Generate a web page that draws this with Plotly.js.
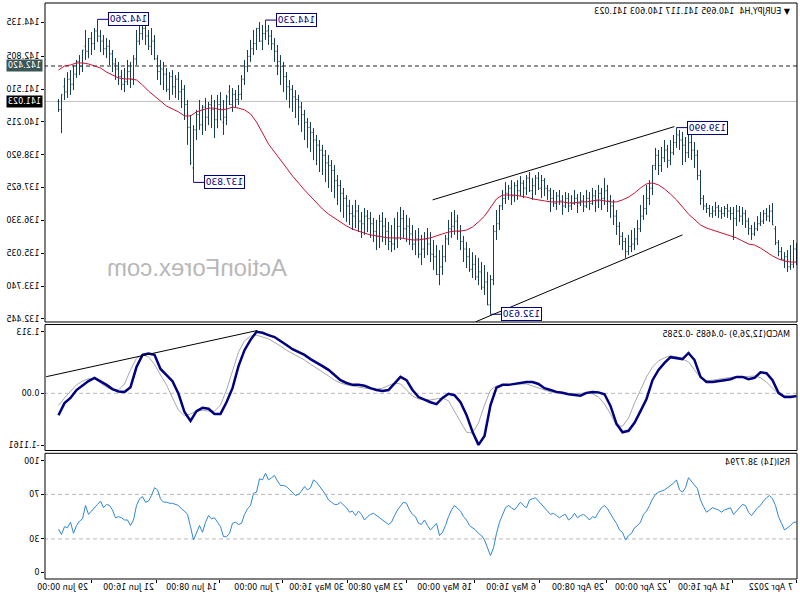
<!DOCTYPE html>
<html>
<head>
<meta charset="utf-8">
<script src="https://cdn.plot.ly/plotly-3.0.1.min.js"></script>
<style>
html,body{margin:0;padding:0;background:#fff;}
#chart{width:800px;height:600px;transform:scaleX(-1);}
</style>
</head>
<body>
<div id="chart"></div>
<script>
// EURJPY H4 bars, oldest first
const barOpen = [
134.70,135.20,134.60,134.50,134.90,134.80,135.10,135.45,136.15,136.70,
136.50,136.60,136.30,136.20,136.00,135.80,136.00,136.30,136.60,136.50,
136.70,136.40,136.60,136.70,136.80,136.60,136.70,136.85,136.70,136.60,
136.80,136.90,137.20,138.10,138.90,139.10,139.40,139.00,139.30,139.50,
139.70,139.40,139.00,138.70,139.10,138.80,138.50,138.90,138.50,137.60,
137.20,136.80,136.50,136.00,135.60,135.40,135.30,135.10,135.50,135.70,
136.10,136.50,136.90,137.10,137.50,137.20,137.40,137.10,137.30,137.00,
137.20,136.90,137.10,137.00,137.20,137.00,136.90,137.20,136.90,137.10,
137.30,137.00,137.20,137.50,137.60,137.90,137.60,138.00,137.70,137.50,
138.00,137.60,137.80,137.50,137.70,137.30,137.60,137.40,137.20,136.90,
136.20,135.90,134.00,133.00,133.90,133.70,134.30,134.10,134.60,134.40,
134.90,135.20,135.50,135.90,136.30,136.10,136.00,135.60,134.90,134.50,
134.20,134.90,135.00,135.40,135.60,135.20,135.00,135.60,135.40,135.80,
136.10,136.00,136.40,136.10,135.60,135.40,135.50,135.90,136.10,136.30,
135.70,135.90,136.20,136.40,136.50,136.20,136.30,136.70,136.50,136.60,
136.90,137.20,137.40,137.70,137.90,138.30,138.50,138.60,138.90,139.10,
139.30,139.50,139.80,140.00,140.20,140.50,140.80,141.10,141.20,141.50,
141.60,142.00,142.40,142.60,143.00,143.30,143.60,143.80,143.70,143.40,
143.90,143.30,143.10,142.80,142.40,141.90,141.30,141.10,141.30,140.90,
141.20,140.40,140.29,140.90,140.30,140.70,140.90,140.40,140.80,140.10,
140.50,139.90,138.60,140.00,140.90,141.50,141.40,141.90,141.60,142.00,
141.50,142.10,142.30,142.20,142.70,143.40,143.20,143.60,143.90,143.70,
143.40,142.70,141.90,142.20,141.80,141.70,142.00,142.30,142.50,142.90,
143.20,143.10,143.40,143.60,143.80,143.30,143.50,143.00,143.05,142.40,
142.60,142.10,141.70,141.90,141.40,141.30,140.695];
const barHigh = [
135.44,135.56,135.36,135.16,135.08,135.28,135.56,136.11,137.02,136.94,
136.82,136.74,136.66,136.50,136.27,136.15,136.43,136.74,136.86,136.90,
136.94,136.86,136.86,136.98,136.90,136.86,136.94,137.06,136.90,136.94,
137.02,137.33,138.32,139.11,139.42,139.70,139.82,139.62,139.82,139.90,
139.99,139.70,139.50,139.31,139.50,139.23,139.11,139.19,138.51,137.92,
137.73,137.33,136.94,136.35,136.03,135.95,135.76,135.64,135.87,136.27,
136.74,137.14,137.33,137.73,138.00,137.61,137.73,137.53,137.61,137.45,
137.53,137.33,137.45,137.37,137.53,137.33,137.41,137.45,137.33,137.53,
137.45,137.53,137.61,137.73,138.00,138.12,138.24,138.12,138.00,138.24,
138.12,137.92,138.08,137.92,137.84,137.92,137.73,137.84,137.53,136.94,
136.74,136.15,134.18,134.30,134.57,134.69,134.85,134.96,135.08,135.24,
135.48,135.72,136.15,136.55,136.74,136.66,136.35,135.76,135.36,135.16,
135.36,135.56,135.87,136.03,135.87,135.76,136.03,135.95,136.15,136.43,
136.55,136.74,136.86,136.66,136.43,136.15,136.27,136.43,136.66,136.55,
136.35,136.43,136.66,136.74,136.82,136.66,136.94,137.14,136.94,137.14,
137.33,137.61,137.92,138.12,138.51,138.71,138.91,139.11,139.31,139.50,
139.70,139.97,140.21,140.37,140.69,141.00,141.28,141.47,141.67,141.87,
142.18,142.58,142.85,143.25,143.52,143.84,144.04,144.23,144.04,144.15,
143.92,143.84,143.45,143.05,142.66,142.06,141.67,141.47,141.55,141.67,
141.28,141.08,141.39,141.28,141.08,141.28,141.00,141.16,140.88,141.08,
140.69,140.09,140.49,141.08,141.67,141.87,142.18,142.06,142.26,142.18,
142.34,142.58,142.66,142.85,143.64,143.92,143.84,144.04,144.23,144.15,
143.84,142.85,142.58,142.66,142.34,142.26,142.58,142.73,143.05,143.45,
143.52,143.64,143.84,144.26,143.92,143.76,143.52,143.84,143.05,142.85,
142.66,142.46,142.26,142.18,141.95,141.30,141.117];
const barLow = [
134.57,134.45,134.38,134.30,134.45,134.77,134.92,135.36,136.15,136.27,
136.31,136.19,136.11,135.91,135.72,135.56,135.76,136.03,136.15,136.27,
136.11,135.56,136.35,136.43,136.47,136.39,136.43,136.50,136.43,136.47,
136.62,136.74,136.94,137.92,138.40,138.71,138.79,138.63,138.51,139.11,
139.19,138.91,138.51,138.40,138.63,138.24,138.12,138.32,137.33,136.94,
136.55,136.35,135.87,135.36,135.16,135.08,134.96,134.85,135.16,135.36,
135.76,136.15,136.43,136.66,136.94,136.74,136.82,136.66,136.94,136.74,
136.82,136.66,136.90,136.62,136.94,136.74,136.66,136.82,136.55,136.94,
136.74,136.86,136.66,137.14,137.29,137.21,137.53,137.33,137.14,137.45,
137.33,137.21,137.29,137.14,137.06,136.94,137.14,136.98,136.74,135.95,
135.56,133.78,132.63,132.99,133.39,133.59,133.78,133.98,134.06,134.30,
134.45,134.69,135.16,135.56,135.76,135.64,135.36,134.69,134.18,133.78,
134.18,134.38,134.69,134.96,134.85,134.57,134.85,134.96,135.16,135.36,
135.48,135.64,135.56,135.24,135.16,135.08,135.16,135.36,135.48,135.24,
135.16,135.48,135.64,135.87,135.76,135.64,135.87,136.03,135.95,136.15,
136.27,136.43,136.66,136.94,137.21,137.45,137.61,137.84,138.12,138.24,
138.51,138.71,139.03,139.19,139.50,139.82,140.09,140.37,140.61,140.76,
141.08,141.39,141.67,142.06,142.58,143.05,143.25,143.45,143.05,143.37,
143.05,142.85,142.58,142.18,141.67,141.08,140.88,140.76,140.61,140.88,
140.09,139.70,140.29,139.97,139.58,139.97,140.09,139.86,139.70,139.90,
139.50,137.83,138.51,139.31,140.29,140.76,141.08,141.16,141.28,141.08,
141.39,141.47,141.67,141.87,142.66,142.85,143.05,143.25,143.45,143.25,
142.46,141.67,141.55,141.67,141.39,141.47,141.67,141.87,142.18,142.46,
142.73,142.85,142.97,143.37,143.05,142.85,142.73,142.66,142.18,142.06,
141.95,141.47,141.28,141.16,141.08,139.77,140.603];
const barClose = [
135.20,134.60,134.50,134.90,134.80,135.10,135.45,136.00,136.70,136.50,
136.60,136.30,136.20,136.00,135.80,136.00,136.30,136.60,136.50,136.70,
136.40,136.60,136.70,136.80,136.60,136.70,136.85,136.70,136.60,136.80,
136.90,137.20,138.10,138.90,139.10,139.40,139.00,139.30,139.50,139.70,
139.40,139.00,138.70,139.10,138.80,138.50,138.90,138.50,137.60,137.20,
136.80,136.50,136.00,135.60,135.40,135.30,135.10,135.50,135.70,136.10,
136.50,136.90,137.10,137.50,137.20,137.40,137.10,137.30,137.00,137.20,
136.90,137.10,137.00,137.20,137.00,136.90,137.20,136.90,137.10,137.30,
137.00,137.20,137.50,137.60,137.90,137.60,138.00,137.70,137.50,138.00,
137.60,137.80,137.50,137.70,137.30,137.60,137.40,137.20,136.90,136.20,
135.90,134.00,133.00,133.90,133.70,134.30,134.10,134.60,134.40,134.90,
135.20,135.50,135.90,136.30,136.10,136.00,135.60,134.90,134.50,134.20,
134.90,135.00,135.40,135.60,135.20,135.00,135.60,135.40,135.80,136.10,
136.00,136.40,136.10,135.60,135.40,135.50,135.90,136.10,136.30,135.70,
135.90,136.20,136.40,136.50,136.20,136.30,136.70,136.50,136.60,136.90,
137.20,137.40,137.70,137.90,138.30,138.50,138.60,138.90,139.10,139.30,
139.50,139.80,140.00,140.20,140.50,140.80,141.10,141.20,141.50,141.60,
142.00,142.40,142.60,143.00,143.30,143.60,143.80,143.70,143.40,143.90,
143.30,143.10,142.80,142.40,141.90,141.30,141.10,141.30,140.90,141.40,
140.40,140.20,140.90,140.30,140.70,140.90,140.40,140.80,140.10,140.50,
139.90,138.40,140.00,140.90,141.50,141.40,141.90,141.60,142.00,141.50,
142.10,142.30,142.20,142.70,143.40,143.20,143.60,143.90,143.70,143.40,
142.70,141.90,142.20,141.80,141.70,142.00,142.30,142.50,142.90,143.20,
143.10,143.40,143.60,143.80,143.30,143.50,143.00,143.20,142.40,142.60,
142.10,141.70,141.90,141.40,141.60,140.70,141.023];

// moving average, one value every second bar
const maPrice = [
134.69,134.69,134.73,134.81,134.93,135.09,135.24,135.36,135.40,135.52,
135.64,135.72,135.80,135.87,135.95,136.03,136.15,136.35,136.58,136.86,
137.14,137.37,137.57,137.73,137.81,137.77,137.61,137.41,137.25,137.14,
137.06,137.06,137.10,137.14,137.10,137.06,137.06,137.02,137.02,137.06,
137.06,137.06,137.10,137.14,137.18,137.25,137.29,137.33,137.33,137.33,
137.18,136.82,136.50,136.27,136.07,135.95,135.91,135.91,135.87,135.80,
135.72,135.64,135.60,135.56,135.56,135.60,135.64,135.64,135.64,135.68,
135.72,135.76,135.83,135.91,135.99,136.11,136.27,136.43,136.58,136.78,
137.02,137.25,137.53,137.81,138.08,138.40,138.71,139.03,139.34,139.78,
140.21,140.53,140.69,140.76,140.80,140.72,140.69,140.76,140.76,140.69,
140.61,140.45,140.45,140.61,140.72,140.84,141.04,141.24,141.43,141.67,
141.87,141.91,141.91,141.95,142.07,142.18,142.34,142.42,142.50,142.54,
142.54,142.46,142.42,142.26];

// MACD(12,26,9), one value every second bar
const macdMain = [
-0.06,-0.08,-0.08,0.01,0.28,0.43,0.45,0.33,0.30,0.35,
0.35,0.30,0.28,0.26,0.24,0.24,0.35,0.71,0.86,0.73,
0.75,0.77,0.65,0.50,0.28,-0.12,-0.38,-0.63,-0.80,-0.83,
-0.65,-0.27,-0.02,0.02,0.03,0.01,-0.05,-0.04,-0.02,0.01,
0.03,0.07,0.11,0.20,0.24,0.24,0.22,0.20,0.18,0.18,
0.12,-0.25,-0.91,-1.10,-0.82,-0.46,-0.19,-0.04,-0.01,-0.10,
-0.23,-0.19,-0.14,-0.08,0.07,0.28,0.35,0.22,0.07,0.05,
0.07,0.11,0.16,0.18,0.18,0.22,0.28,0.39,0.50,0.58,
0.65,0.73,0.82,0.88,0.94,1.03,1.12,1.20,1.24,1.29,
1.313,1.14,0.92,0.58,0.11,-0.19,-0.44,-0.44,-0.33,-0.31,
-0.38,-0.59,-0.40,-0.01,0.26,0.39,0.52,0.82,0.85,0.82,
0.56,0.13,0.03,0.04,0.09,0.18,0.26,0.33,0.26,0.16,
0.07,-0.10,-0.21,-0.4685];
const macdSignal = [
-0.04,-0.06,-0.05,-0.01,0.11,0.24,0.33,0.37,0.36,0.36,
0.35,0.34,0.32,0.29,0.28,0.27,0.33,0.50,0.67,0.73,
0.78,0.80,0.76,0.69,0.56,0.35,0.07,-0.21,-0.53,-0.70,
-0.70,-0.44,-0.23,-0.08,-0.01,0.01,0.00,-0.01,-0.01,-0.01,
0.01,0.03,0.07,0.11,0.16,0.20,0.20,0.20,0.18,0.17,
0.16,0.07,-0.25,-0.63,-0.85,-0.83,-0.61,-0.36,-0.16,-0.10,
-0.12,-0.14,-0.14,-0.12,-0.06,0.07,0.20,0.22,0.16,0.11,
0.09,0.09,0.11,0.13,0.16,0.18,0.22,0.28,0.37,0.45,
0.54,0.62,0.71,0.78,0.84,0.92,1.01,1.09,1.16,1.20,
1.24,1.22,1.12,0.88,0.50,0.07,-0.25,-0.38,-0.38,-0.36,
-0.38,-0.44,-0.48,-0.36,-0.10,0.18,0.39,0.62,0.78,0.82,
0.75,0.50,0.20,0.07,0.07,0.13,0.22,0.31,0.31,0.26,
0.18,0.05,-0.10,-0.2585];

// RSI(14), one value per bar
const rsiValues = [
45,45,42,40,38,44,50,60,66,69,
67,64,60,58,55,51,54,60,61,58,
56,52,58,57,56,54,56,57,58,56,
54,59,65,75,78,82,85,76,72,74,
83,80,78,76,74,73,72,70,66,60,
55,52,45,42,40,35,33,29,36,38,
44,48,53,57,60,58,54,49,50,47,
50,52,51,49,53,49,47,52,51,49,
51,53,52,55,58,62,65,67,66,65,
58,60,63,60,56,58,60,58,52,45,
35,22,15,22,29,33,35,38,40,42,
47,50,55,58,60,56,50,42,36,33,
44,41,38,42,47,43,44,50,52,56,
62,63,60,56,51,45,43,45,47,49,
51,53,52,50,47,52,55,51,55,54,
58,61,63,61,61,63,65,70,74,78,
81,83,76,74,77,73,70,69,72,74,
77,78,78,82,87,85,83,89,83,84,
72,71,60,57,52,44,43,45,44,35,
32,32,41,45,49,48,51,45,36,42,
36,29,41,52,55,57,60,61,62,62,
63,63,66,74,76,69,64,63,68,66,
60,47,42,47,47,49,50,49,56,60,
61,58,64,61,58,55,52,60,48,46,
42,35,45,40,41,34,38.78];

// time axis labels and the bar at which each falls
const tickLabels = ['7 Apr 2022','14 Apr 16:00','22 Apr 00:00','29 Apr 08:00','6 May 16:00','16 May 00:00','23 May 08:00','30 May 16:00','7 Jun 00:00','14 Jun 08:00','21 Jun 16:00','29 Jun 00:00'];
const tickBars = [0, 21.3, 42.3, 63.3, 85.7, 107.3, 130, 149.7, 171.3, 192.3, 213.3, 235];

const priceTicks = [132.445, 133.740, 135.035, 136.330, 137.625, 138.920, 140.215, 141.510, 142.805, 144.135];
const macdTicks = [1.313, 0, -1.1161];
const macdTickText = ['1.313', '0.00', '-1.1161'];
const rsiTicks = [100, 70, 30, 0];

// swing labels
const swingBars = [233, 177, 201, 40, 102];
const swingPrices = [144.260, 144.230, 137.830, 139.990, 132.630];

// trendlines
const upperChannelBars = [121.3, 40.7], upperChannelPrices = [137.14, 140.03];
const lowerChannelBars = [107, 38], lowerChannelPrices = [132.33, 135.76];
const macdTrendBars = [250.1, 179.7], macdTrendValues = [0.354, 1.34];

const levelDashed = 142.420;   // dashed level
const lastPrice = 141.023;     // bid line

const barColor = '#163f50';
const idx = barClose.map((_, i) => i);
const idx2 = maPrice.map((_, i) => i * 2);

const traces = [
  {type:'ohlc', x: idx, open: barOpen, high: barHigh, low: barLow, close: barClose,
   xaxis:'x', yaxis:'y', tickwidth: 0.34, hoverinfo:'skip',
   increasing:{line:{color:barColor, width:1}}, decreasing:{line:{color:barColor, width:1}}},
  {type:'scatter', mode:'lines', x: idx2, y: maPrice, xaxis:'x', yaxis:'y',
   line:{color:'#cc1133', width:1}, hoverinfo:'skip'},
  {type:'scatter', mode:'lines', x: upperChannelBars, y: upperChannelPrices, xaxis:'x', yaxis:'y',
   line:{color:'#000', width:1}, hoverinfo:'skip'},
  {type:'scatter', mode:'lines', x: lowerChannelBars, y: lowerChannelPrices, xaxis:'x', yaxis:'y',
   line:{color:'#000', width:1}, hoverinfo:'skip'},
  {type:'scatter', mode:'lines', x: idx2, y: macdSignal, xaxis:'x', yaxis:'y2',
   line:{color:'#a8a8a8', width:1}, hoverinfo:'skip'},
  {type:'scatter', mode:'lines', x: idx2, y: macdMain, xaxis:'x', yaxis:'y2',
   line:{color:'#000080', width:2.5}, hoverinfo:'skip'},
  {type:'scatter', mode:'lines', x: macdTrendBars, y: macdTrendValues, xaxis:'x', yaxis:'y2',
   line:{color:'#000', width:1}, hoverinfo:'skip'},
  {type:'scatter', mode:'lines', x: idx, y: rsiValues, xaxis:'x', yaxis:'y3',
   line:{color:'#2f86d4', width:1}, hoverinfo:'skip'}
];

const font8 = {family:'DejaVu Sans', size:8, color:'#000'};
const yCommon = {side:'right', anchor:'x', showgrid:false, zeroline:false, ticks:'outside',
  ticklen:3, tickcolor:'#000', tickfont:font8, showline:false, fixedrange:true};

const shapes = [
  {type:'rect', xref:'paper', yref:'y domain', x0:0, x1:1, y0:0, y1:1, line:{color:'#000', width:1}},
  {type:'rect', xref:'paper', yref:'y2 domain', x0:0, x1:1, y0:0, y1:1, line:{color:'#000', width:1}},
  {type:'rect', xref:'paper', yref:'y3 domain', x0:0, x1:1, y0:0, y1:1, line:{color:'#000', width:1}},
  {type:'line', xref:'paper', yref:'y', x0:0, x1:1, y0:levelDashed, y1:levelDashed, line:{color:'#222', width:1, dash:'4px,3px'}, layer:'below'},
  {type:'line', xref:'paper', yref:'y', x0:0, x1:1, y0:lastPrice, y1:lastPrice, line:{color:'#c0c0c0', width:1}, layer:'below'},
  {type:'line', xref:'paper', yref:'y2', x0:0, x1:1, y0:0, y1:0, line:{color:'#b8b8b8', width:1, dash:'4px,3px'}, layer:'below'},
  {type:'line', xref:'paper', yref:'y3', x0:0, x1:1, y0:70, y1:70, line:{color:'#b8b8b8', width:1, dash:'4px,3px'}, layer:'below'},
  {type:'line', xref:'paper', yref:'y3', x0:0, x1:1, y0:30, y1:30, line:{color:'#b8b8b8', width:1, dash:'4px,3px'}, layer:'below'}
];

const annotations = [
  {xref:'paper', yref:'paper', x:0, y:1, xanchor:'left', yanchor:'top', xshift:5, yshift:-2, showarrow:false,
   text:'▼ EURJPY,H4  140.695 141.117 140.603 141.023', font:font8},
  {xref:'paper', yref:'y2 domain', x:0, y:1, xanchor:'left', yanchor:'top', xshift:5, yshift:-3, showarrow:false,
   text:'MACD(12,26,9) -0.4685 -0.2585', font:font8},
  {xref:'paper', yref:'y3 domain', x:0, y:1, xanchor:'left', yanchor:'top', xshift:5, yshift:-3, showarrow:false,
   text:'RSI(14) 38.7794', font:font8},
  {xref:'paper', yref:'paper', x:0.798, y:0.540, xanchor:'center', yanchor:'middle', showarrow:false,
   text:'ActionForex.com', font:{family:'Liberation Sans', size:24, color:'#b8b8b8'}},
  {xref:'paper', yref:'y', x:1, y:levelDashed, xanchor:'left', yanchor:'middle', xshift:2, showarrow:false,
   text:levelDashed.toFixed(3), bgcolor:'#3a5656', borderpad:1, font:{family:'DejaVu Sans', size:8, color:'#fff'}},
  {xref:'paper', yref:'y', x:1, y:lastPrice, xanchor:'left', yanchor:'middle', xshift:2, showarrow:false,
   text:lastPrice.toFixed(3), bgcolor:'#000', borderpad:1, font:{family:'DejaVu Sans', size:8, color:'#fff'}}
];
swingBars.forEach((b, i) => {
  annotations.push({xref:'x', yref:'y', x:b, y:swingPrices[i], text:swingPrices[i].toFixed(3),
    showarrow:true, arrowhead:0, arrowwidth:1, arrowcolor:'#000080', ax:-31, ay:0,
    bordercolor:'#000080', borderwidth:1, borderpad:1, bgcolor:'#fff',
    font:{family:'DejaVu Sans', size:9, color:'#000080'}});
});
tickLabels.forEach((t, i) => {
  annotations.push({xref:'x', yref:'paper', x:tickBars[i], y:0, xanchor:'left', yanchor:'top',
    xshift:1, yshift:-2, showarrow:false, text:t, font:font8});
});

const layout = {
  width:800, height:600,
  margin:{l:3, r:45, t:3, b:21, pad:0},
  paper_bgcolor:'#fff', plot_bgcolor:'#fff',
  showlegend:false,
  font:font8,
  xaxis:{range:[-0.1667, 250.5], anchor:'y3', showgrid:false, zeroline:false, showline:false,
    tickvals:tickBars, ticktext:tickBars.map(() => ''), ticks:'outside', ticklen:3, tickcolor:'#000',
    rangeslider:{visible:false}, fixedrange:true},
  yaxis:Object.assign({}, yCommon, {domain:[0.4462, 1], range:[132.325, 144.904],
    tickvals:priceTicks, ticktext:priceTicks.map(v => v.toFixed(3))}),
  yaxis2:Object.assign({}, yCommon, {domain:[0.2231, 0.4418], range:[-1.2196, 1.467],
    tickvals:macdTicks, ticktext:macdTickText}),
  yaxis3:Object.assign({}, yCommon, {domain:[0, 0.2182], range:[-6.02, 106.9],
    tickvals:rsiTicks, ticktext:rsiTicks.map(String)}),
  shapes:shapes,
  annotations:annotations
};

Plotly.newPlot('chart', traces, layout, {staticPlot:true, displayModeBar:false});
</script>
</body>
</html>
